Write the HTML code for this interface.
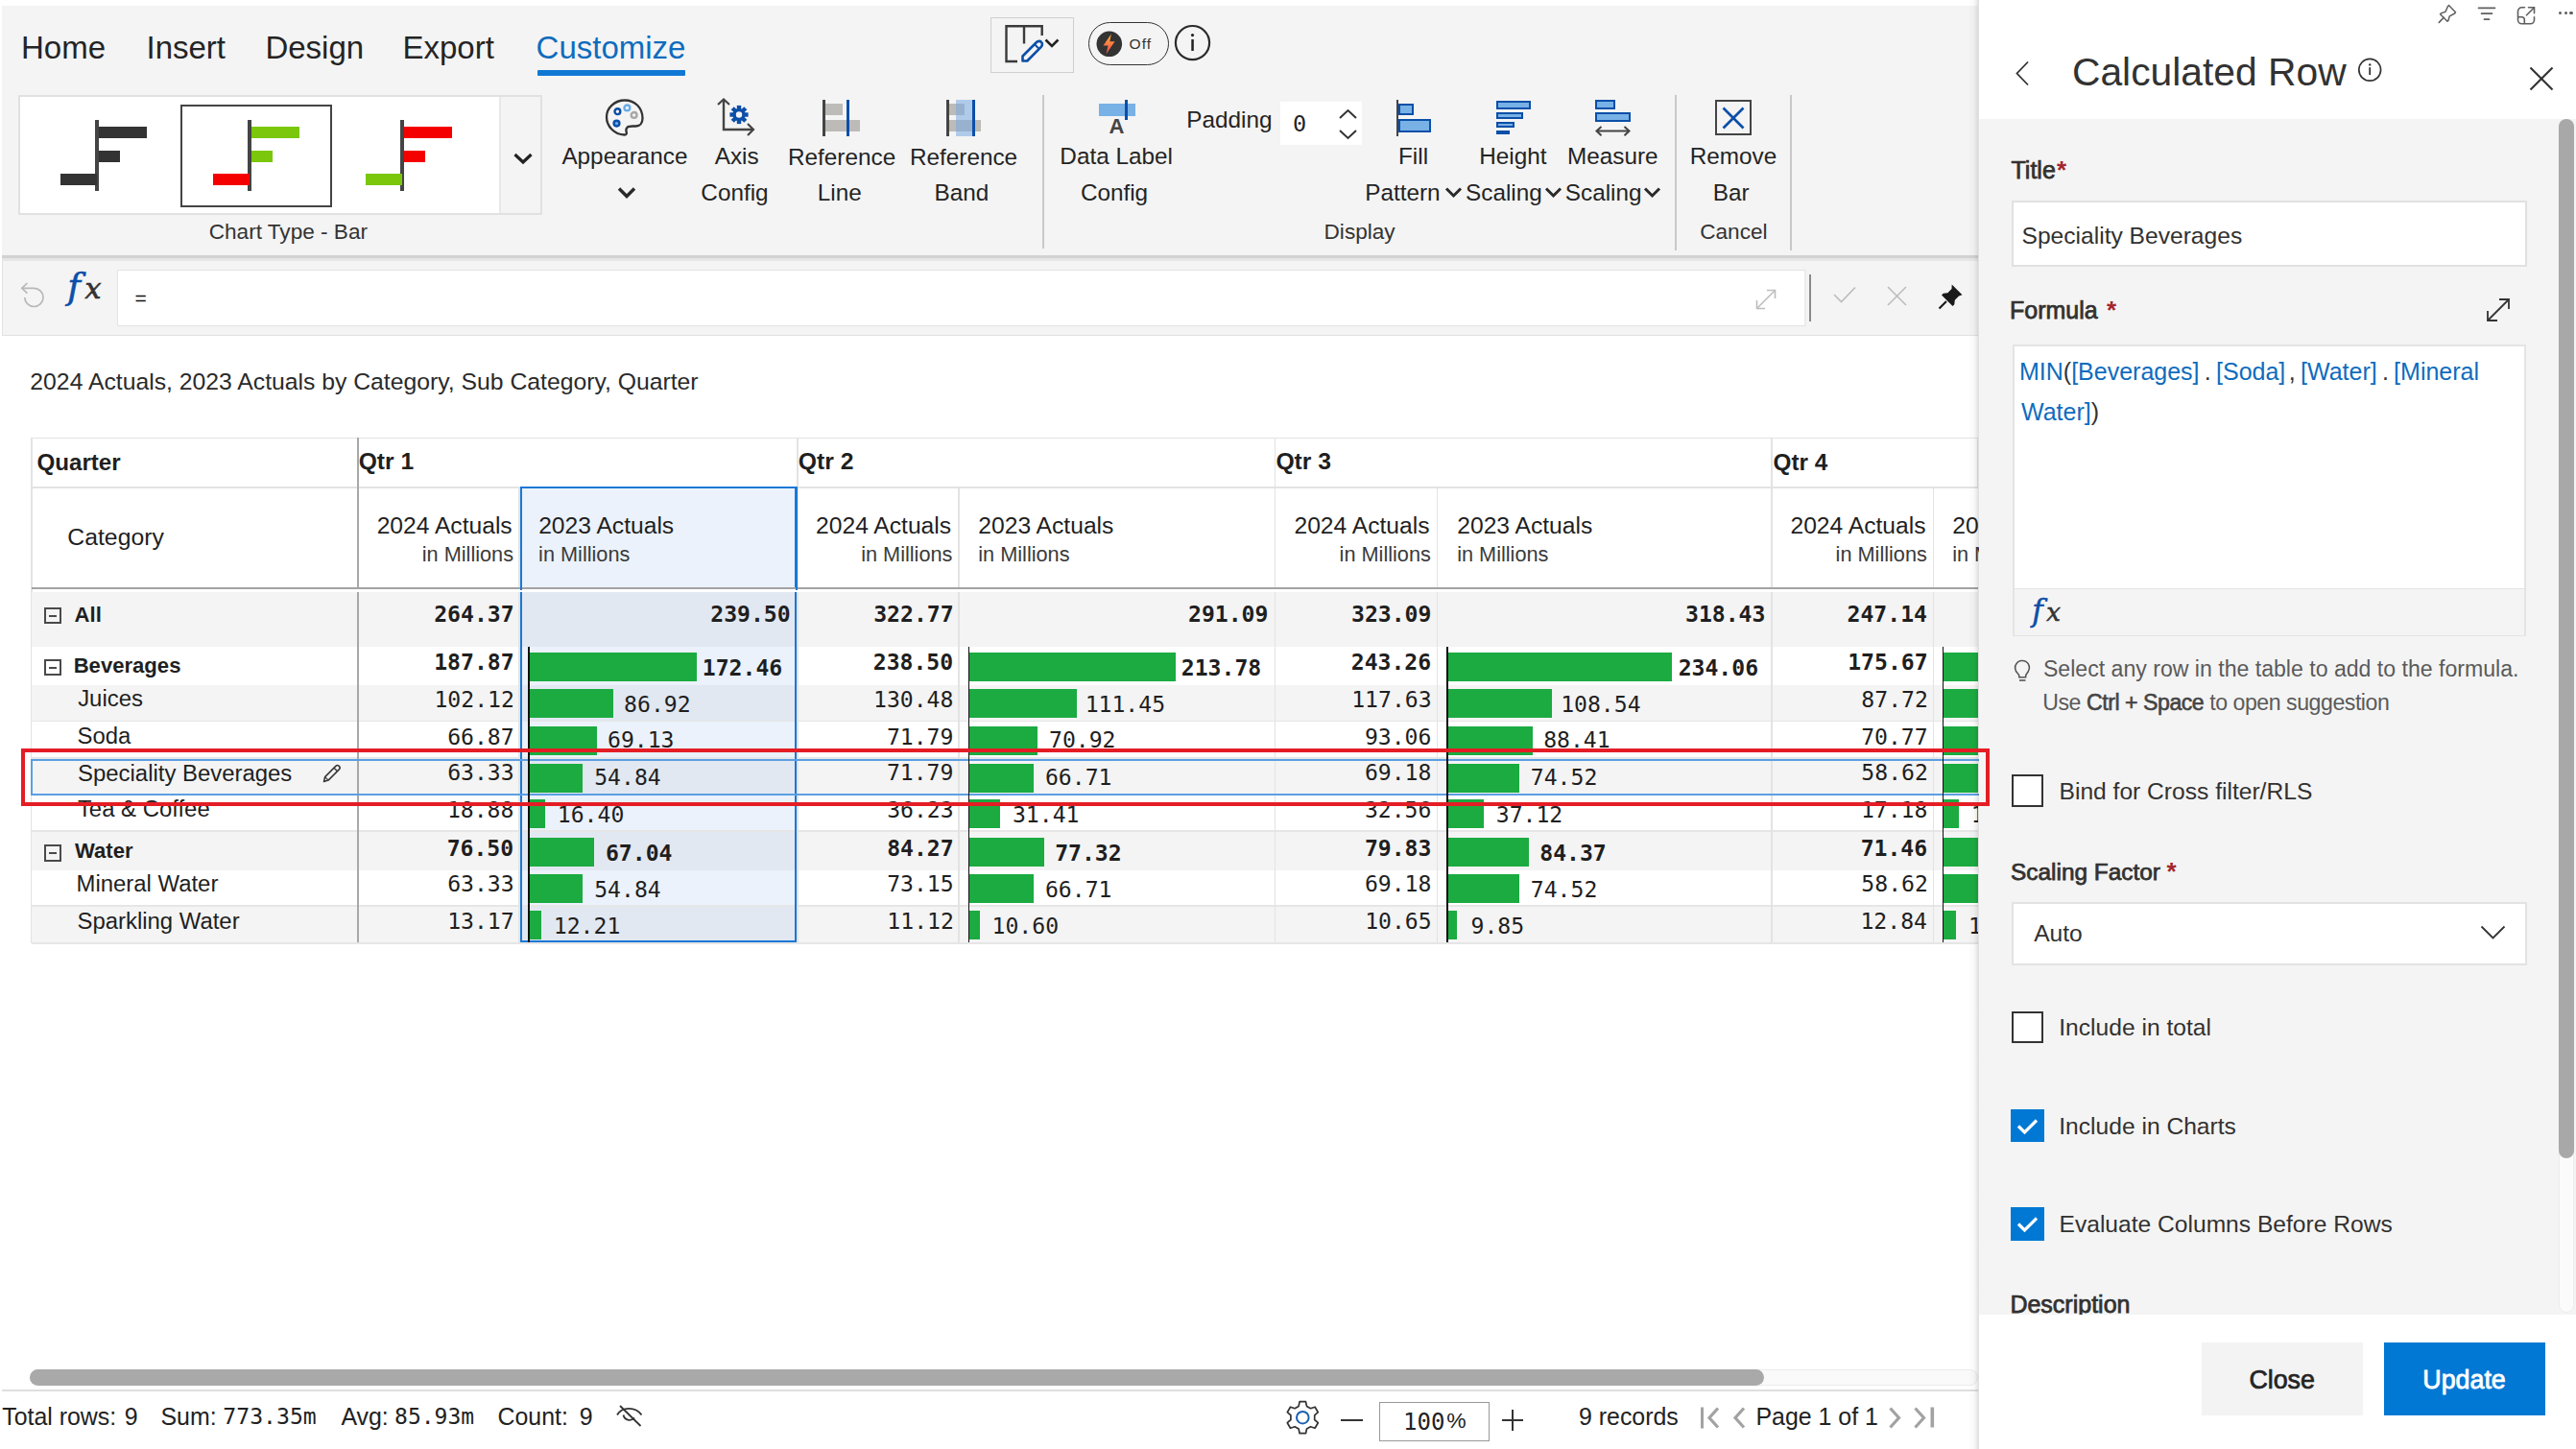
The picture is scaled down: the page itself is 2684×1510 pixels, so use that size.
<!DOCTYPE html>
<html><head><meta charset="utf-8"><title>Calculated Row</title>
<style>
html,body{margin:0;padding:0;background:#fff;}
body{width:2684px;height:1510px;overflow:hidden;position:relative;font-family:"Liberation Sans",sans-serif;line-height:1;}
body div{white-space:nowrap;line-height:1;}
svg{overflow:visible;}
</style></head><body>
<div style="position:absolute;left:2px;top:6px;width:2059px;height:260px;background:#f4f4f4"></div>
<div style="position:absolute;left:2px;top:266px;width:2059px;height:2.6px;background:#d2d2d2"></div>
<div style="position:absolute;left:2px;top:268.6px;width:2059px;height:3.2px;background:#e6e6e6"></div>
<div style="position:absolute;left:22.01px;top:33.05px;font-family:'Liberation Sans',sans-serif;font-size:33.00px;font-weight:400;color:#242424;">Home</div>
<div style="position:absolute;left:152.51px;top:33.05px;font-family:'Liberation Sans',sans-serif;font-size:33.00px;font-weight:400;color:#242424;">Insert</div>
<div style="position:absolute;left:276.40px;top:33.05px;font-family:'Liberation Sans',sans-serif;font-size:33.00px;font-weight:400;color:#242424;">Design</div>
<div style="position:absolute;left:419.46px;top:33.05px;font-family:'Liberation Sans',sans-serif;font-size:33.00px;font-weight:400;color:#242424;">Export</div>
<div style="position:absolute;left:558.58px;top:33.05px;font-family:'Liberation Sans',sans-serif;font-size:33.00px;font-weight:400;color:#0f6cbd;">Customize</div>
<div style="position:absolute;left:560px;top:73px;width:154px;height:6px;background:#0f78d4;border-radius:1px"></div>
<div style="position:absolute;left:19px;top:99px;width:546px;height:125px;box-sizing:border-box;border:2px solid #e1e1e1;background:#f4f4f4"></div>
<div style="position:absolute;left:21px;top:101px;width:501px;height:121px;box-sizing:border-box;background:#fff;border-right:2px solid #e8e8e8"></div>
<div style="position:absolute;left:188px;top:109px;width:158px;height:107px;box-sizing:border-box;border:2px solid #444"></div>
<div style="position:absolute;left:99.2px;top:125px;width:3.5px;height:74px;background:#444"></div>
<div style="position:absolute;left:102.7px;top:132px;width:50.5px;height:12px;background:#333"></div>
<div style="position:absolute;left:102.7px;top:157px;width:22px;height:12px;background:#333"></div>
<div style="position:absolute;left:62.7px;top:181px;width:38px;height:12px;background:#333"></div>
<div style="position:absolute;left:258.1px;top:125px;width:3.5px;height:74px;background:#444"></div>
<div style="position:absolute;left:261.6px;top:132px;width:50.5px;height:12px;background:#7ac70c"></div>
<div style="position:absolute;left:261.6px;top:157px;width:22px;height:12px;background:#7ac70c"></div>
<div style="position:absolute;left:221.60000000000002px;top:181px;width:38px;height:12px;background:#f50000"></div>
<div style="position:absolute;left:417.0px;top:125px;width:3.5px;height:74px;background:#444"></div>
<div style="position:absolute;left:420.5px;top:132px;width:50.5px;height:12px;background:#f50000"></div>
<div style="position:absolute;left:420.5px;top:157px;width:22px;height:12px;background:#f50000"></div>
<div style="position:absolute;left:380.5px;top:181px;width:38px;height:12px;background:#7ac70c"></div>
<svg style="position:absolute;left:533px;top:156px;" width="24" height="18" viewBox="0 0 24 18"><polyline points="3.5,5 12,13 20.5,5" fill="none" stroke="#222" stroke-width="3.2"/></svg>
<div style="position:absolute;left:217.69px;top:231.19px;font-family:'Liberation Sans',sans-serif;font-size:22.60px;font-weight:400;color:#333;">Chart Type - Bar</div>
<svg style="position:absolute;left:628px;top:100px;" width="46" height="46" viewBox="0 0 46 46"><path d="M23 4.5c-10.5 0-19 7.8-19 17.5 0 9.8 8.2 18 18.5 18.5 2.2.1 2.7-1.3 2.2-2.8-.6-1.7-.8-3.3.9-5 1.3-1.2 3-1.2 5.5-1.2h3.4c4.2 0 7-3.2 7-8.2C41.5 12.3 33.5 4.5 23 4.5z" fill="none" stroke="#333" stroke-width="2.3"/>
<circle cx="15.4" cy="16.2" r="2.9" fill="none" stroke="#0b4fa8" stroke-width="2.4"/>
<circle cx="25.4" cy="12.4" r="2.9" fill="none" stroke="#6aaee8" stroke-width="2.4"/>
<circle cx="32.6" cy="19.9" r="2.9" fill="none" stroke="#a8a8a8" stroke-width="2.4"/>
<circle cx="14.5" cy="28.6" r="2.9" fill="#6aaee8" stroke="#0b4fa8" stroke-width="2.4"/></svg>
<div style="position:absolute;left:585.41px;top:151.25px;font-family:'Liberation Sans',sans-serif;font-size:24.30px;font-weight:400;color:#242424;">Appearance</div>
<svg style="position:absolute;left:642px;top:193px;" width="22" height="16" viewBox="0 0 22 16"><polyline points="3,3.5 11,11.5 19,3.5" fill="none" stroke="#2a2a2a" stroke-width="3.4"/></svg>
<svg style="position:absolute;left:740px;top:100px;" width="52" height="42" viewBox="0 0 52 42"><polyline points="8,9 14,3.5 20,9" fill="none" stroke="#444" stroke-width="2.2"/>
<polyline points="14,4 14,35 44,35" fill="none" stroke="#444" stroke-width="2.4"/>
<polyline points="39,29 45,35 39,41" fill="none" stroke="#444" stroke-width="2.2"/>
<g transform="translate(30,19.5)" fill="#0b4fa8"><circle r="6.6"/>
<rect x="-2.2" y="-9.6" width="4.4" height="19.2"/><rect x="-2.2" y="-9.6" width="4.4" height="19.2" transform="rotate(45)"/>
<rect x="-2.2" y="-9.6" width="4.4" height="19.2" transform="rotate(90)"/><rect x="-2.2" y="-9.6" width="4.4" height="19.2" transform="rotate(135)"/>
<circle r="3.2" fill="#f4f4f4"/></g></svg>
<div style="position:absolute;left:744.71px;top:151.25px;font-family:'Liberation Sans',sans-serif;font-size:24.30px;font-weight:400;color:#242424;">Axis</div>
<div style="position:absolute;left:730.35px;top:188.94px;font-family:'Liberation Sans',sans-serif;font-size:24.30px;font-weight:400;color:#242424;">Config</div>
<div style="position:absolute;left:856.5px;top:104px;width:3px;height:38px;background:#444"></div>
<div style="position:absolute;left:859.5px;top:108px;width:18px;height:12px;background:#bdbbb8"></div>
<div style="position:absolute;left:859.5px;top:125px;width:36.5px;height:12px;background:#bdbbb8"></div>
<div style="position:absolute;left:882px;top:104px;width:3px;height:38px;background:#0b4fa8"></div>
<div style="position:absolute;left:821.06px;top:151.54px;font-family:'Liberation Sans',sans-serif;font-size:24.30px;font-weight:400;color:#242424;">Reference</div>
<div style="position:absolute;left:851.75px;top:189.34px;font-family:'Liberation Sans',sans-serif;font-size:24.30px;font-weight:400;color:#242424;">Line</div>
<div style="position:absolute;left:986px;top:104px;width:3px;height:38px;background:#444"></div>
<div style="position:absolute;left:989px;top:108px;width:16px;height:12px;background:#bdbbb8"></div>
<div style="position:absolute;left:989px;top:125px;width:32.5px;height:12px;background:#bdbbb8"></div>
<div style="position:absolute;left:996px;top:104px;width:17px;height:38px;background:rgba(120,170,225,0.55)"></div>
<div style="position:absolute;left:1013px;top:104px;width:2.5px;height:38px;background:#0b4fa8"></div>
<div style="position:absolute;left:948.01px;top:151.54px;font-family:'Liberation Sans',sans-serif;font-size:24.30px;font-weight:400;color:#242424;">Reference</div>
<div style="position:absolute;left:973.43px;top:189.34px;font-family:'Liberation Sans',sans-serif;font-size:24.30px;font-weight:400;color:#242424;">Band</div>
<div style="position:absolute;left:1085.5px;top:99px;width:2px;height:160px;background:#c8c8c8"></div>
<div style="position:absolute;left:1144.5px;top:108px;width:38px;height:12.5px;background:#78b1e6"></div>
<div style="position:absolute;left:1172.3px;top:103.7px;width:3px;height:21px;background:#0b4fa8"></div>
<div style="position:absolute;left:1155.56px;top:120.85px;font-family:'Liberation Sans',sans-serif;font-size:22.06px;font-weight:700;color:#444;">A</div>
<div style="position:absolute;left:1104.36px;top:151.25px;font-family:'Liberation Sans',sans-serif;font-size:24.30px;font-weight:400;color:#242424;">Data Label</div>
<div style="position:absolute;left:1125.90px;top:189.04px;font-family:'Liberation Sans',sans-serif;font-size:24.30px;font-weight:400;color:#242424;">Config</div>
<div style="position:absolute;left:1236.32px;top:112.75px;font-family:'Liberation Sans',sans-serif;font-size:24.30px;font-weight:400;color:#242424;">Padding</div>
<div style="position:absolute;left:1334px;top:106px;width:85px;height:45px;background:#fff"></div>
<div style="position:absolute;left:1346.95px;top:117.86px;font-family:'DejaVu Sans Mono','Liberation Mono',monospace;font-size:23.50px;font-weight:400;color:#242424;">0</div>
<svg style="position:absolute;left:1392px;top:112px;" width="25" height="36" viewBox="0 0 25 36"><polyline points="4,11 12.5,3 21,11" fill="none" stroke="#333" stroke-width="2"/><polyline points="4,24 12.5,32 21,24" fill="none" stroke="#333" stroke-width="2"/></svg>
<div style="position:absolute;left:1454.5px;top:103.5px;width:2.5px;height:38px;background:#444"></div>
<div style="position:absolute;left:1457px;top:107.5px;width:16px;height:12.5px;box-sizing:border-box;background:#78b1e6;border:2px solid #0b4fa8"></div>
<div style="position:absolute;left:1457px;top:124.3px;width:33.5px;height:13.7px;box-sizing:border-box;background:#78b1e6;border:2px solid #0b4fa8"></div>
<div style="position:absolute;left:1457.01px;top:150.94px;font-family:'Liberation Sans',sans-serif;font-size:24.30px;font-weight:400;color:#242424;">Fill</div>
<div style="position:absolute;left:1422.24px;top:189.15px;font-family:'Liberation Sans',sans-serif;font-size:24.30px;font-weight:400;color:#242424;">Pattern</div>
<svg style="position:absolute;left:1504px;top:193px;" width="21" height="15" viewBox="0 0 21 15"><polyline points="3,3.5 10.5,11 18,3.5" fill="none" stroke="#2a2a2a" stroke-width="3"/></svg>
<div style="position:absolute;left:1558.5px;top:104.9px;width:36.0px;height:9.199999999999989px;box-sizing:border-box;background:#78b1e6;border:2px solid #0b4fa8"></div>
<div style="position:absolute;left:1558.5px;top:117.2px;width:28.09999999999991px;height:7.099999999999994px;box-sizing:border-box;background:#78b1e6;border:2px solid #0b4fa8"></div>
<div style="position:absolute;left:1558.5px;top:127.3px;width:19.799999999999955px;height:5.700000000000003px;box-sizing:border-box;background:#78b1e6;border:2px solid #0b4fa8"></div>
<div style="position:absolute;left:1558.5px;top:136px;width:14.5px;height:4px;box-sizing:border-box;background:#78b1e6;border:2px solid #0b4fa8"></div>
<div style="position:absolute;left:1541.18px;top:150.94px;font-family:'Liberation Sans',sans-serif;font-size:24.30px;font-weight:400;color:#242424;">Height</div>
<div style="position:absolute;left:1527.10px;top:189.15px;font-family:'Liberation Sans',sans-serif;font-size:24.30px;font-weight:400;color:#242424;">Scaling</div>
<svg style="position:absolute;left:1608px;top:193px;" width="21" height="15" viewBox="0 0 21 15"><polyline points="3,3.5 10.5,11 18,3.5" fill="none" stroke="#2a2a2a" stroke-width="3"/></svg>
<div style="position:absolute;left:1662.4px;top:104.2px;width:20.2px;height:9.5px;box-sizing:border-box;background:#78b1e6;border:2px solid #0b4fa8"></div>
<div style="position:absolute;left:1662.4px;top:117.2px;width:36.4px;height:9.5px;box-sizing:border-box;background:#78b1e6;border:2px solid #0b4fa8"></div>
<svg style="position:absolute;left:1660px;top:130px;" width="42" height="14" viewBox="0 0 42 14"><line x1="4" y1="6.6" x2="37" y2="6.6" stroke="#444" stroke-width="2"/><polyline points="8.5,2 3.5,6.6 8.5,11.2" fill="none" stroke="#444" stroke-width="2"/><polyline points="32.5,2 37.5,6.6 32.5,11.2" fill="none" stroke="#444" stroke-width="2"/></svg>
<div style="position:absolute;left:1633.10px;top:150.94px;font-family:'Liberation Sans',sans-serif;font-size:24.30px;font-weight:400;color:#242424;">Measure</div>
<div style="position:absolute;left:1630.85px;top:189.15px;font-family:'Liberation Sans',sans-serif;font-size:24.30px;font-weight:400;color:#242424;">Scaling</div>
<svg style="position:absolute;left:1711px;top:193px;" width="21" height="15" viewBox="0 0 21 15"><polyline points="3,3.5 10.5,11 18,3.5" fill="none" stroke="#2a2a2a" stroke-width="3"/></svg>
<div style="position:absolute;left:1379.55px;top:231.19px;font-family:'Liberation Sans',sans-serif;font-size:22.60px;font-weight:400;color:#333;">Display</div>
<div style="position:absolute;left:1745px;top:99px;width:2px;height:162px;background:#c8c8c8"></div>
<div style="position:absolute;left:1787.4px;top:104px;width:37.2px;height:37.2px;box-sizing:border-box;border:2.2px solid #444"></div>
<svg style="position:absolute;left:1793px;top:110px;" width="26" height="26" viewBox="0 0 26 26"><line x1="2.5" y1="2.5" x2="23.5" y2="23.5" stroke="#0b4fa8" stroke-width="2.6"/><line x1="23.5" y1="2.5" x2="2.5" y2="23.5" stroke="#0b4fa8" stroke-width="2.6"/></svg>
<div style="position:absolute;left:1760.73px;top:151.34px;font-family:'Liberation Sans',sans-serif;font-size:24.30px;font-weight:400;color:#242424;">Remove</div>
<div style="position:absolute;left:1784.78px;top:189.15px;font-family:'Liberation Sans',sans-serif;font-size:24.30px;font-weight:400;color:#242424;">Bar</div>
<div style="position:absolute;left:1771.21px;top:230.99px;font-family:'Liberation Sans',sans-serif;font-size:22.60px;font-weight:400;color:#333;">Cancel</div>
<div style="position:absolute;left:1864.6px;top:99px;width:2px;height:162px;background:#c8c8c8"></div>
<div style="position:absolute;left:1031.5px;top:17.5px;width:87px;height:58.5px;box-sizing:border-box;border:1.5px solid #cfcfcf"></div>
<svg style="position:absolute;left:1044px;top:24px;" width="66" height="44" viewBox="0 0 66 44"><polyline points="16,40 4.5,40 4.5,3.3 41.7,3.3 41.7,13" fill="none" stroke="#3a3a3a" stroke-width="2.4"/>
<line x1="23" y1="3.3" x2="23" y2="21.5" stroke="#3a3a3a" stroke-width="2.4"/>
<path d="M21.5 39.5 L21.5 34.5 L36 20 C37.5 18.5 39.8 18.5 41 19.8 C42.3 21.1 42.3 23.3 40.8 24.8 L26.3 39.5 Z" fill="none" stroke="#0b4fa8" stroke-width="2.6" stroke-linejoin="round"/>
<line x1="34" y1="22.3" x2="38.5" y2="26.8" stroke="#0b4fa8" stroke-width="2"/>
<polyline points="45.5,17.5 52,24 58.5,17.5" fill="none" stroke="#222" stroke-width="2.6"/></svg>
<div style="position:absolute;left:1134px;top:23px;width:84px;height:44.5px;box-sizing:border-box;border:1.8px solid #333;border-radius:23px"></div>
<svg style="position:absolute;left:1142px;top:31.5px" width="28" height="28" viewBox="0 0 28 28"><defs><linearGradient id="lg" x1="0" y1="0" x2="0" y2="1"><stop offset="0" stop-color="#ffb43a"/><stop offset="1" stop-color="#f2434a"/></linearGradient></defs>
<circle cx="13.8" cy="13.8" r="13.3" fill="#333"/><path d="M15.8 3.6 L7.5 15.5 L12.5 15.5 L10.5 24.5 L19.5 11.3 L14.3 11.3 Z" fill="url(#lg)"/></svg>
<div style="position:absolute;left:1176.38px;top:37.73px;font-family:'Liberation Sans',sans-serif;font-size:15.50px;font-weight:400;color:#333;letter-spacing:1.2px">Off</div>
<svg style="position:absolute;left:1223px;top:25px;" width="40" height="40" viewBox="0 0 40 40"><circle cx="19.5" cy="19.6" r="17.6" fill="none" stroke="#2b2b2b" stroke-width="2.2"/><circle cx="19.5" cy="11.6" r="1.6" fill="#222"/><rect x="18.3" y="16" width="2.5" height="12" fill="#222"/></svg>
<div style="position:absolute;left:2px;top:271.8px;width:2059px;height:78.5px;box-sizing:border-box;background:#f4f4f4;border:1.8px solid #e2e2e2;border-top:none;border-right:none"></div>
<svg style="position:absolute;left:14px;top:286px;" width="40" height="40" viewBox="0 0 40 40"><path d="M8.8 14.3 H21.4 A9.6 9.6 0 1 1 11.8 23.9" fill="none" stroke="#b8b8b8" stroke-width="1.7"/><polyline points="14.4,9 8.8,14.3 14.4,19.6" fill="none" stroke="#b8b8b8" stroke-width="1.7"/></svg>
<div style="position:absolute;left:70.2px;top:279.6px;font-family:'DejaVu Serif','Liberation Serif',serif;font-style:italic;font-size:37px;line-height:1;white-space:nowrap"><span style="color:#0b4fa8;-webkit-text-stroke:0.6px #0b4fa8">f</span><span style="color:#333;font-size:30px;margin-left:4.5px;-webkit-text-stroke:0.7px #333">x</span></div>
<div style="position:absolute;left:121.5px;top:280.5px;width:1760px;height:59.5px;box-sizing:border-box;background:#fff;border:1.5px solid #e3e3e3;border-right:2px solid #ececec"></div>
<div style="position:absolute;left:140.56px;top:300.15px;font-family:'Liberation Sans',sans-serif;font-size:21.00px;font-weight:400;color:#111;">=</div>
<svg style="position:absolute;left:1824px;top:296px;" width="32" height="32" viewBox="0 0 32 32"><line x1="6.5" y1="25.5" x2="25.5" y2="6.5" stroke="#bdbdbd" stroke-width="1.6"/><polyline points="6.5,17 6.5,25.5 15,25.5" fill="none" stroke="#bdbdbd" stroke-width="1.6"/><polyline points="17,6.5 25.5,6.5 25.5,15" fill="none" stroke="#bdbdbd" stroke-width="1.6"/></svg>
<div style="position:absolute;left:1884.5px;top:286px;width:2px;height:49px;background:#8a8a8a"></div>
<svg style="position:absolute;left:1908px;top:296px;" width="30" height="24" viewBox="0 0 30 24"><polyline points="3,11 10.5,18.5 25,3.5" fill="none" stroke="#bcbcbc" stroke-width="1.6"/></svg>
<svg style="position:absolute;left:1964px;top:296px;" width="26" height="24" viewBox="0 0 26 24"><line x1="3" y1="3" x2="22" y2="22" stroke="#bcbcbc" stroke-width="1.6"/><line x1="22" y1="3" x2="3" y2="22" stroke="#bcbcbc" stroke-width="1.6"/></svg>
<svg style="position:absolute;left:2018px;top:294px;" width="30" height="30" viewBox="0 0 30 30"><path d="M15.7 2.5 L26.5 13.3 L23 14.6 L18.8 18.8 L18.3 23.3 L16.5 25 L5 13.5 L6.8 11.7 L11.3 11.2 L15.5 7 Z" fill="#1a1a1a"/><line x1="10" y1="20" x2="2.5" y2="27.5" stroke="#1a1a1a" stroke-width="2.2"/></svg>
<div style="position:absolute;left:31.36px;top:385.87px;font-family:'Liberation Sans',sans-serif;font-size:24.74px;font-weight:400;color:#2a2a2a;">2024 Actuals, 2023 Actuals by Category, Sub Category, Quarter</div>
<div style="position:absolute;left:33px;top:455.5px;width:2028px;height:1.5px;background:#e3e3e3"></div>
<div style="position:absolute;left:32px;top:455.5px;width:1.5px;height:527px;background:#e3e3e3"></div>
<div style="position:absolute;left:33px;top:507px;width:2028px;height:1.5px;background:#e3e3e3"></div>
<div style="position:absolute;left:542px;top:507px;width:288px;height:106px;box-sizing:border-box;background:#ebf2fb;border:2px solid #1a78d6;border-bottom:none"></div>
<div style="position:absolute;left:33px;top:612px;width:2028px;height:2.3px;background:#a3a3a3"></div>
<div style="position:absolute;left:33px;top:617px;width:2028px;height:57px;background:#f4f4f4"></div>
<div style="position:absolute;left:33px;top:674px;width:2028px;height:40px;background:#fff"></div>
<div style="position:absolute;left:33px;top:714px;width:2028px;height:36.5px;background:#f4f4f4"></div>
<div style="position:absolute;left:33px;top:752px;width:2028px;height:37px;background:#fff"></div>
<div style="position:absolute;left:33px;top:790.5px;width:2028px;height:38.5px;background:#f4f4f4"></div>
<div style="position:absolute;left:33px;top:829px;width:2028px;height:36px;background:#fff"></div>
<div style="position:absolute;left:33px;top:866.5px;width:2028px;height:40.5px;background:#f4f4f4"></div>
<div style="position:absolute;left:33px;top:907px;width:2028px;height:36px;background:#fff"></div>
<div style="position:absolute;left:33px;top:944.5px;width:2028px;height:37.5px;background:#f4f4f4"></div>
<div style="position:absolute;left:33px;top:750.5px;width:2028px;height:1.5px;background:#e6e6e6"></div>
<div style="position:absolute;left:33px;top:789px;width:2028px;height:1.5px;background:#e6e6e6"></div>
<div style="position:absolute;left:33px;top:865px;width:2028px;height:1.5px;background:#e6e6e6"></div>
<div style="position:absolute;left:33px;top:943px;width:2028px;height:1.5px;background:#e6e6e6"></div>
<div style="position:absolute;left:33px;top:982px;width:2028px;height:1.5px;background:#e6e6e6"></div>
<div style="position:absolute;left:542px;top:617px;width:288px;height:57px;background:#e2e8f1"></div>
<div style="position:absolute;left:542px;top:674px;width:288px;height:40px;background:#ebf2fb"></div>
<div style="position:absolute;left:542px;top:714px;width:288px;height:36.5px;background:#e2e8f1"></div>
<div style="position:absolute;left:542px;top:752px;width:288px;height:37px;background:#ebf2fb"></div>
<div style="position:absolute;left:542px;top:790.5px;width:288px;height:38.5px;background:#e2e8f1"></div>
<div style="position:absolute;left:542px;top:829px;width:288px;height:36px;background:#ebf2fb"></div>
<div style="position:absolute;left:542px;top:866.5px;width:288px;height:40.5px;background:#e2e8f1"></div>
<div style="position:absolute;left:542px;top:907px;width:288px;height:36px;background:#ebf2fb"></div>
<div style="position:absolute;left:542px;top:944.5px;width:288px;height:37.5px;background:#e2e8f1"></div>
<div style="position:absolute;left:542px;top:617.3px;width:288px;height:365.2px;box-sizing:border-box;border:2px solid #1a78d6;border-top:none"></div>
<div style="position:absolute;left:371.5px;top:456px;width:2px;height:156px;background:#a8a8a8"></div>
<div style="position:absolute;left:371.5px;top:617px;width:2px;height:365px;background:#a8a8a8"></div>
<div style="position:absolute;left:830px;top:456px;width:1.5px;height:156px;background:#e3e3e3"></div>
<div style="position:absolute;left:830px;top:617px;width:1.5px;height:365px;background:#e3e3e3"></div>
<div style="position:absolute;left:1327.5px;top:456px;width:1.5px;height:156px;background:#e3e3e3"></div>
<div style="position:absolute;left:1327.5px;top:617px;width:1.5px;height:365px;background:#e3e3e3"></div>
<div style="position:absolute;left:1845px;top:456px;width:1.5px;height:156px;background:#e3e3e3"></div>
<div style="position:absolute;left:1845px;top:617px;width:1.5px;height:365px;background:#e3e3e3"></div>
<div style="position:absolute;left:998px;top:508px;width:1.5px;height:104px;background:#e3e3e3"></div>
<div style="position:absolute;left:998px;top:617px;width:1.5px;height:365px;background:#e3e3e3"></div>
<div style="position:absolute;left:1496.5px;top:508px;width:1.5px;height:104px;background:#e3e3e3"></div>
<div style="position:absolute;left:1496.5px;top:617px;width:1.5px;height:365px;background:#e3e3e3"></div>
<div style="position:absolute;left:2013.5px;top:508px;width:1.5px;height:104px;background:#e3e3e3"></div>
<div style="position:absolute;left:2013.5px;top:617px;width:1.5px;height:365px;background:#e3e3e3"></div>
<div style="position:absolute;left:828.5px;top:507px;width:2px;height:107.5px;background:#1a78d6"></div>
<div style="position:absolute;left:542px;top:507px;width:2px;height:107.5px;background:#1a78d6"></div>
<div style="position:absolute;left:540.3px;top:508px;width:1.5px;height:104px;background:#e3e3e3"></div>
<div style="position:absolute;left:540.3px;top:617px;width:1.5px;height:365px;background:#e3e3e3"></div>
<div style="position:absolute;left:32px;top:790.5px;width:2040px;height:38.5px;box-sizing:border-box;border:2px solid #5b9fe3;border-right:none"></div>
<div style="position:absolute;left:38.43px;top:469.66px;font-family:'Liberation Sans',sans-serif;font-size:24.16px;font-weight:700;color:#1f1f1f;">Quarter</div>
<div style="position:absolute;left:70.36px;top:547.76px;font-family:'Liberation Sans',sans-serif;font-size:24.75px;font-weight:400;color:#1f1f1f;">Category</div>
<div style="position:absolute;left:373.72px;top:469.29px;font-family:'Liberation Sans',sans-serif;font-size:24.60px;font-weight:700;color:#1f1f1f;">Qtr 1</div>
<div style="position:absolute;left:831.81px;top:469.19px;font-family:'Liberation Sans',sans-serif;font-size:24.71px;font-weight:700;color:#1f1f1f;">Qtr 2</div>
<div style="position:absolute;left:1329.41px;top:469.19px;font-family:'Liberation Sans',sans-serif;font-size:24.71px;font-weight:700;color:#1f1f1f;">Qtr 3</div>
<div style="position:absolute;left:1847.53px;top:469.56px;font-family:'Liberation Sans',sans-serif;font-size:24.28px;font-weight:700;color:#1f1f1f;">Qtr 4</div>
<div style="position:absolute;left:392.67px;top:535.55px;font-family:'Liberation Sans',sans-serif;font-size:24.64px;font-weight:400;color:#1f1f1f;">2024 Actuals</div>
<div style="position:absolute;left:439.80px;top:567.46px;font-family:'Liberation Sans',sans-serif;font-size:21.70px;font-weight:400;color:#3a3a3a;">in Millions</div>
<div style="position:absolute;left:850.07px;top:535.55px;font-family:'Liberation Sans',sans-serif;font-size:24.64px;font-weight:400;color:#1f1f1f;">2024 Actuals</div>
<div style="position:absolute;left:897.20px;top:567.46px;font-family:'Liberation Sans',sans-serif;font-size:21.70px;font-weight:400;color:#3a3a3a;">in Millions</div>
<div style="position:absolute;left:1348.47px;top:535.55px;font-family:'Liberation Sans',sans-serif;font-size:24.64px;font-weight:400;color:#1f1f1f;">2024 Actuals</div>
<div style="position:absolute;left:1395.60px;top:567.46px;font-family:'Liberation Sans',sans-serif;font-size:21.70px;font-weight:400;color:#3a3a3a;">in Millions</div>
<div style="position:absolute;left:1865.47px;top:535.55px;font-family:'Liberation Sans',sans-serif;font-size:24.64px;font-weight:400;color:#1f1f1f;">2024 Actuals</div>
<div style="position:absolute;left:1912.60px;top:567.46px;font-family:'Liberation Sans',sans-serif;font-size:21.70px;font-weight:400;color:#3a3a3a;">in Millions</div>
<div style="position:absolute;left:561.17px;top:535.55px;font-family:'Liberation Sans',sans-serif;font-size:24.64px;font-weight:400;color:#1f1f1f;">2023 Actuals</div>
<div style="position:absolute;left:561.10px;top:567.46px;font-family:'Liberation Sans',sans-serif;font-size:21.70px;font-weight:400;color:#3a3a3a;">in Millions</div>
<div style="position:absolute;left:1019.37px;top:535.55px;font-family:'Liberation Sans',sans-serif;font-size:24.64px;font-weight:400;color:#1f1f1f;">2023 Actuals</div>
<div style="position:absolute;left:1019.30px;top:567.46px;font-family:'Liberation Sans',sans-serif;font-size:21.70px;font-weight:400;color:#3a3a3a;">in Millions</div>
<div style="position:absolute;left:1518.27px;top:535.55px;font-family:'Liberation Sans',sans-serif;font-size:24.64px;font-weight:400;color:#1f1f1f;">2023 Actuals</div>
<div style="position:absolute;left:1518.20px;top:567.46px;font-family:'Liberation Sans',sans-serif;font-size:21.70px;font-weight:400;color:#3a3a3a;">in Millions</div>
<div style="position:absolute;left:2034.27px;top:535.55px;font-family:'Liberation Sans',sans-serif;font-size:24.64px;font-weight:400;color:#1f1f1f;">2023 Actuals</div>
<div style="position:absolute;left:2034.20px;top:567.46px;font-family:'Liberation Sans',sans-serif;font-size:21.70px;font-weight:400;color:#3a3a3a;">in Millions</div>
<div style="position:absolute;left:77.56px;top:630.31px;font-family:'Liberation Sans',sans-serif;font-size:22.10px;font-weight:700;color:#1f1f1f;">All</div>
<div style="position:absolute;left:46px;top:632.75px;width:17.5px;height:17.5px;box-sizing:border-box;border:2px solid #4a4a4a"></div>
<div style="position:absolute;left:50.5px;top:640.5px;width:8.5px;height:2px;background:#4a4a4a"></div>
<div style="position:absolute;left:76.67px;top:683.31px;font-family:'Liberation Sans',sans-serif;font-size:22.10px;font-weight:700;color:#1f1f1f;">Beverages</div>
<div style="position:absolute;left:46px;top:686.95px;width:17.5px;height:17.5px;box-sizing:border-box;border:2px solid #4a4a4a"></div>
<div style="position:absolute;left:50.5px;top:694.7px;width:8.5px;height:2px;background:#4a4a4a"></div>
<div style="position:absolute;left:81.16px;top:716.28px;font-family:'Liberation Sans',sans-serif;font-size:23.91px;font-weight:400;color:#1f1f1f;">Juices</div>
<div style="position:absolute;left:80.44px;top:754.98px;font-family:'Liberation Sans',sans-serif;font-size:23.91px;font-weight:400;color:#1f1f1f;">Soda</div>
<div style="position:absolute;left:81.04px;top:793.58px;font-family:'Liberation Sans',sans-serif;font-size:23.91px;font-weight:400;color:#1f1f1f;">Speciality Beverages</div>
<div style="position:absolute;left:80.92px;top:831.38px;font-family:'Liberation Sans',sans-serif;font-size:23.91px;font-weight:400;color:#1f1f1f;">Tea &amp; Coffee</div>
<div style="position:absolute;left:78.00px;top:876.01px;font-family:'Liberation Sans',sans-serif;font-size:22.10px;font-weight:700;color:#1f1f1f;">Water</div>
<div style="position:absolute;left:46px;top:880.05px;width:17.5px;height:17.5px;box-sizing:border-box;border:2px solid #4a4a4a"></div>
<div style="position:absolute;left:50.5px;top:887.8px;width:8.5px;height:2px;background:#4a4a4a"></div>
<div style="position:absolute;left:79.49px;top:909.48px;font-family:'Liberation Sans',sans-serif;font-size:23.91px;font-weight:400;color:#1f1f1f;">Mineral Water</div>
<div style="position:absolute;left:80.44px;top:947.58px;font-family:'Liberation Sans',sans-serif;font-size:23.91px;font-weight:400;color:#1f1f1f;">Sparkling Water</div>
<svg style="position:absolute;left:333px;top:795px;" width="24" height="24" viewBox="0 0 24 24"><path d="M4.5 19.5 L5.6 14.6 L16.8 3.4 C17.8 2.4 19.3 2.4 20.3 3.4 C21.3 4.4 21.3 5.9 20.3 6.9 L9.1 18.1 Z" fill="none" stroke="#3a3a3a" stroke-width="1.6" stroke-linejoin="round"/><line x1="15" y1="5.2" x2="18.6" y2="8.8" stroke="#3a3a3a" stroke-width="1.4"/><line x1="5.6" y1="14.6" x2="9.1" y2="18.1" stroke="#3a3a3a" stroke-width="1.3"/></svg>
<div style="position:absolute;left:0;top:0;width:2061px;height:1510px;overflow:hidden">
<div style="position:absolute;left:452.22px;top:629.20px;font-family:'DejaVu Sans Mono','Liberation Mono',monospace;font-size:23.10px;font-weight:700;color:#1f1f1f;">264.37</div>
<div style="position:absolute;left:740.26px;top:629.20px;font-family:'DejaVu Sans Mono','Liberation Mono',monospace;font-size:23.10px;font-weight:700;color:#1f1f1f;">239.50</div>
<div style="position:absolute;left:910.22px;top:629.20px;font-family:'DejaVu Sans Mono','Liberation Mono',monospace;font-size:23.10px;font-weight:700;color:#1f1f1f;">322.77</div>
<div style="position:absolute;left:1237.99px;top:629.20px;font-family:'DejaVu Sans Mono','Liberation Mono',monospace;font-size:23.10px;font-weight:700;color:#1f1f1f;">291.09</div>
<div style="position:absolute;left:1407.99px;top:629.20px;font-family:'DejaVu Sans Mono','Liberation Mono',monospace;font-size:23.10px;font-weight:700;color:#1f1f1f;">323.09</div>
<div style="position:absolute;left:1755.99px;top:629.20px;font-family:'DejaVu Sans Mono','Liberation Mono',monospace;font-size:23.10px;font-weight:700;color:#1f1f1f;">318.43</div>
<div style="position:absolute;left:1924.53px;top:629.20px;font-family:'DejaVu Sans Mono','Liberation Mono',monospace;font-size:23.10px;font-weight:700;color:#1f1f1f;">247.14</div>
<div style="position:absolute;left:2257.76px;top:629.20px;font-family:'DejaVu Sans Mono','Liberation Mono',monospace;font-size:23.10px;font-weight:700;color:#1f1f1f;">230.00</div>
<div style="position:absolute;left:452.22px;top:679.30px;font-family:'DejaVu Sans Mono','Liberation Mono',monospace;font-size:23.10px;font-weight:700;color:#1f1f1f;">187.87</div>
<div style="position:absolute;left:551.8px;top:680px;width:174.01214px;height:30.2px;background:#1bab41"></div>
<div style="position:absolute;left:731.80px;top:685.00px;font-family:'DejaVu Sans Mono','Liberation Mono',monospace;font-size:23.10px;font-weight:700;color:#1f1f1f;">172.46</div>
<div style="position:absolute;left:909.76px;top:679.30px;font-family:'DejaVu Sans Mono','Liberation Mono',monospace;font-size:23.10px;font-weight:700;color:#1f1f1f;">238.50</div>
<div style="position:absolute;left:1010.0999999999999px;top:680px;width:214.52823px;height:30.2px;background:#1bab41"></div>
<div style="position:absolute;left:1230.82px;top:685.00px;font-family:'DejaVu Sans Mono','Liberation Mono',monospace;font-size:23.10px;font-weight:700;color:#1f1f1f;">213.78</div>
<div style="position:absolute;left:1407.76px;top:679.30px;font-family:'DejaVu Sans Mono','Liberation Mono',monospace;font-size:23.10px;font-weight:700;color:#1f1f1f;">243.26</div>
<div style="position:absolute;left:1508.3999999999999px;top:680px;width:234.06px;height:30.2px;background:#1bab41"></div>
<div style="position:absolute;left:1748.64px;top:685.00px;font-family:'DejaVu Sans Mono','Liberation Mono',monospace;font-size:23.10px;font-weight:700;color:#1f1f1f;">234.06</div>
<div style="position:absolute;left:1925.22px;top:679.30px;font-family:'DejaVu Sans Mono','Liberation Mono',monospace;font-size:23.10px;font-weight:700;color:#1f1f1f;">175.67</div>
<div style="position:absolute;left:2025.3px;top:680px;width:160.0px;height:30.2px;background:#1bab41"></div>
<div style="position:absolute;left:2193.30px;top:685.00px;font-family:'DejaVu Sans Mono','Liberation Mono',monospace;font-size:23.10px;font-weight:700;color:#1f1f1f;">160.00</div>
<div style="position:absolute;left:452.45px;top:718.00px;font-family:'DejaVu Sans Mono','Liberation Mono',monospace;font-size:23.10px;font-weight:400;color:#1f1f1f;">102.12</div>
<div style="position:absolute;left:551.8px;top:718px;width:87.70227999999999px;height:30.2px;background:#1bab41"></div>
<div style="position:absolute;left:650.12px;top:722.60px;font-family:'DejaVu Sans Mono','Liberation Mono',monospace;font-size:23.10px;font-weight:400;color:#1f1f1f;">86.92</div>
<div style="position:absolute;left:909.99px;top:718.00px;font-family:'DejaVu Sans Mono','Liberation Mono',monospace;font-size:23.10px;font-weight:400;color:#1f1f1f;">130.48</div>
<div style="position:absolute;left:1010.0999999999999px;top:718px;width:111.84007500000001px;height:30.2px;background:#1bab41"></div>
<div style="position:absolute;left:1130.65px;top:722.60px;font-family:'DejaVu Sans Mono','Liberation Mono',monospace;font-size:23.10px;font-weight:400;color:#1f1f1f;">111.45</div>
<div style="position:absolute;left:1408.22px;top:718.00px;font-family:'DejaVu Sans Mono','Liberation Mono',monospace;font-size:23.10px;font-weight:400;color:#1f1f1f;">117.63</div>
<div style="position:absolute;left:1508.3999999999999px;top:718px;width:108.54px;height:30.2px;background:#1bab41"></div>
<div style="position:absolute;left:1626.15px;top:722.60px;font-family:'DejaVu Sans Mono','Liberation Mono',monospace;font-size:23.10px;font-weight:400;color:#1f1f1f;">108.54</div>
<div style="position:absolute;left:1939.36px;top:718.00px;font-family:'DejaVu Sans Mono','Liberation Mono',monospace;font-size:23.10px;font-weight:400;color:#1f1f1f;">87.72</div>
<div style="position:absolute;left:2025.3px;top:718px;width:80.0px;height:30.2px;background:#1bab41"></div>
<div style="position:absolute;left:2116.95px;top:722.60px;font-family:'DejaVu Sans Mono','Liberation Mono',monospace;font-size:23.10px;font-weight:400;color:#1f1f1f;">80.00</div>
<div style="position:absolute;left:466.13px;top:756.70px;font-family:'DejaVu Sans Mono','Liberation Mono',monospace;font-size:23.10px;font-weight:400;color:#1f1f1f;">66.87</div>
<div style="position:absolute;left:551.8px;top:756.5px;width:69.75216999999999px;height:30.2px;background:#1bab41"></div>
<div style="position:absolute;left:632.99px;top:760.10px;font-family:'DejaVu Sans Mono','Liberation Mono',monospace;font-size:23.10px;font-weight:400;color:#1f1f1f;">69.13</div>
<div style="position:absolute;left:923.90px;top:756.70px;font-family:'DejaVu Sans Mono','Liberation Mono',monospace;font-size:23.10px;font-weight:400;color:#1f1f1f;">71.79</div>
<div style="position:absolute;left:1010.0999999999999px;top:756.5px;width:71.16822px;height:30.2px;background:#1bab41"></div>
<div style="position:absolute;left:1093.01px;top:760.10px;font-family:'DejaVu Sans Mono','Liberation Mono',monospace;font-size:23.10px;font-weight:400;color:#1f1f1f;">70.92</div>
<div style="position:absolute;left:1421.90px;top:756.70px;font-family:'DejaVu Sans Mono','Liberation Mono',monospace;font-size:23.10px;font-weight:400;color:#1f1f1f;">93.06</div>
<div style="position:absolute;left:1508.3999999999999px;top:756.5px;width:88.41px;height:30.2px;background:#1bab41"></div>
<div style="position:absolute;left:1608.15px;top:760.10px;font-family:'DejaVu Sans Mono','Liberation Mono',monospace;font-size:23.10px;font-weight:400;color:#1f1f1f;">88.41</div>
<div style="position:absolute;left:1939.13px;top:756.70px;font-family:'DejaVu Sans Mono','Liberation Mono',monospace;font-size:23.10px;font-weight:400;color:#1f1f1f;">70.77</div>
<div style="position:absolute;left:2025.3px;top:756.5px;width:62.0px;height:30.2px;background:#1bab41"></div>
<div style="position:absolute;left:2099.62px;top:760.10px;font-family:'DejaVu Sans Mono','Liberation Mono',monospace;font-size:23.10px;font-weight:400;color:#1f1f1f;">62.00</div>
<div style="position:absolute;left:466.13px;top:794.30px;font-family:'DejaVu Sans Mono','Liberation Mono',monospace;font-size:23.10px;font-weight:400;color:#1f1f1f;">63.33</div>
<div style="position:absolute;left:551.8px;top:795.5px;width:55.33356px;height:30.2px;background:#1bab41"></div>
<div style="position:absolute;left:619.22px;top:799.30px;font-family:'DejaVu Sans Mono','Liberation Mono',monospace;font-size:23.10px;font-weight:400;color:#1f1f1f;">54.84</div>
<div style="position:absolute;left:923.90px;top:794.30px;font-family:'DejaVu Sans Mono','Liberation Mono',monospace;font-size:23.10px;font-weight:400;color:#1f1f1f;">71.79</div>
<div style="position:absolute;left:1010.0999999999999px;top:795.5px;width:66.943485px;height:30.2px;background:#1bab41"></div>
<div style="position:absolute;left:1088.96px;top:799.30px;font-family:'DejaVu Sans Mono','Liberation Mono',monospace;font-size:23.10px;font-weight:400;color:#1f1f1f;">66.71</div>
<div style="position:absolute;left:1421.90px;top:794.30px;font-family:'DejaVu Sans Mono','Liberation Mono',monospace;font-size:23.10px;font-weight:400;color:#1f1f1f;">69.18</div>
<div style="position:absolute;left:1508.3999999999999px;top:795.5px;width:74.52px;height:30.2px;background:#1bab41"></div>
<div style="position:absolute;left:1594.78px;top:799.30px;font-family:'DejaVu Sans Mono','Liberation Mono',monospace;font-size:23.10px;font-weight:400;color:#1f1f1f;">74.52</div>
<div style="position:absolute;left:1939.36px;top:794.30px;font-family:'DejaVu Sans Mono','Liberation Mono',monospace;font-size:23.10px;font-weight:400;color:#1f1f1f;">58.62</div>
<div style="position:absolute;left:2025.3px;top:795.5px;width:52.0px;height:30.2px;background:#1bab41"></div>
<div style="position:absolute;left:2089.99px;top:799.30px;font-family:'DejaVu Sans Mono','Liberation Mono',monospace;font-size:23.10px;font-weight:400;color:#1f1f1f;">52.00</div>
<div style="position:absolute;left:465.90px;top:832.60px;font-family:'DejaVu Sans Mono','Liberation Mono',monospace;font-size:23.10px;font-weight:400;color:#1f1f1f;">18.88</div>
<div style="position:absolute;left:551.8px;top:833px;width:16.547599999999996px;height:30.2px;background:#1bab41"></div>
<div style="position:absolute;left:580.82px;top:837.60px;font-family:'DejaVu Sans Mono','Liberation Mono',monospace;font-size:23.10px;font-weight:400;color:#1f1f1f;">16.40</div>
<div style="position:absolute;left:924.13px;top:832.60px;font-family:'DejaVu Sans Mono','Liberation Mono',monospace;font-size:23.10px;font-weight:400;color:#1f1f1f;">36.23</div>
<div style="position:absolute;left:1010.0999999999999px;top:833px;width:31.519935px;height:30.2px;background:#1bab41"></div>
<div style="position:absolute;left:1054.96px;top:837.60px;font-family:'DejaVu Sans Mono','Liberation Mono',monospace;font-size:23.10px;font-weight:400;color:#1f1f1f;">31.41</div>
<div style="position:absolute;left:1421.90px;top:832.60px;font-family:'DejaVu Sans Mono','Liberation Mono',monospace;font-size:23.10px;font-weight:400;color:#1f1f1f;">32.56</div>
<div style="position:absolute;left:1508.3999999999999px;top:833px;width:37.12px;height:30.2px;background:#1bab41"></div>
<div style="position:absolute;left:1558.76px;top:837.60px;font-family:'DejaVu Sans Mono','Liberation Mono',monospace;font-size:23.10px;font-weight:400;color:#1f1f1f;">37.12</div>
<div style="position:absolute;left:1938.90px;top:832.60px;font-family:'DejaVu Sans Mono','Liberation Mono',monospace;font-size:23.10px;font-weight:400;color:#1f1f1f;">17.18</div>
<div style="position:absolute;left:2025.3px;top:833px;width:15.8px;height:30.2px;background:#1bab41"></div>
<div style="position:absolute;left:2053.74px;top:837.60px;font-family:'DejaVu Sans Mono','Liberation Mono',monospace;font-size:23.10px;font-weight:400;color:#1f1f1f;">15.80</div>
<div style="position:absolute;left:465.67px;top:872.80px;font-family:'DejaVu Sans Mono','Liberation Mono',monospace;font-size:23.10px;font-weight:700;color:#1f1f1f;">76.50</div>
<div style="position:absolute;left:551.8px;top:873px;width:67.64336px;height:30.2px;background:#1bab41"></div>
<div style="position:absolute;left:630.97px;top:877.80px;font-family:'DejaVu Sans Mono','Liberation Mono',monospace;font-size:23.10px;font-weight:700;color:#1f1f1f;">67.04</div>
<div style="position:absolute;left:924.13px;top:872.80px;font-family:'DejaVu Sans Mono','Liberation Mono',monospace;font-size:23.10px;font-weight:700;color:#1f1f1f;">84.27</div>
<div style="position:absolute;left:1010.0999999999999px;top:873px;width:77.59062px;height:30.2px;background:#1bab41"></div>
<div style="position:absolute;left:1099.17px;top:877.80px;font-family:'DejaVu Sans Mono','Liberation Mono',monospace;font-size:23.10px;font-weight:700;color:#1f1f1f;">77.32</div>
<div style="position:absolute;left:1421.90px;top:872.80px;font-family:'DejaVu Sans Mono','Liberation Mono',monospace;font-size:23.10px;font-weight:700;color:#1f1f1f;">79.83</div>
<div style="position:absolute;left:1508.3999999999999px;top:873px;width:84.37px;height:30.2px;background:#1bab41"></div>
<div style="position:absolute;left:1604.26px;top:877.80px;font-family:'DejaVu Sans Mono','Liberation Mono',monospace;font-size:23.10px;font-weight:700;color:#1f1f1f;">84.37</div>
<div style="position:absolute;left:1938.67px;top:872.80px;font-family:'DejaVu Sans Mono','Liberation Mono',monospace;font-size:23.10px;font-weight:700;color:#1f1f1f;">71.46</div>
<div style="position:absolute;left:2025.3px;top:873px;width:66.0px;height:30.2px;background:#1bab41"></div>
<div style="position:absolute;left:2103.47px;top:877.80px;font-family:'DejaVu Sans Mono','Liberation Mono',monospace;font-size:23.10px;font-weight:700;color:#1f1f1f;">66.00</div>
<div style="position:absolute;left:466.13px;top:910.40px;font-family:'DejaVu Sans Mono','Liberation Mono',monospace;font-size:23.10px;font-weight:400;color:#1f1f1f;">63.33</div>
<div style="position:absolute;left:551.8px;top:911px;width:55.33356px;height:30.2px;background:#1bab41"></div>
<div style="position:absolute;left:619.22px;top:915.60px;font-family:'DejaVu Sans Mono','Liberation Mono',monospace;font-size:23.10px;font-weight:400;color:#1f1f1f;">54.84</div>
<div style="position:absolute;left:924.13px;top:910.40px;font-family:'DejaVu Sans Mono','Liberation Mono',monospace;font-size:23.10px;font-weight:400;color:#1f1f1f;">73.15</div>
<div style="position:absolute;left:1010.0999999999999px;top:911px;width:66.943485px;height:30.2px;background:#1bab41"></div>
<div style="position:absolute;left:1088.96px;top:915.60px;font-family:'DejaVu Sans Mono','Liberation Mono',monospace;font-size:23.10px;font-weight:400;color:#1f1f1f;">66.71</div>
<div style="position:absolute;left:1421.90px;top:910.40px;font-family:'DejaVu Sans Mono','Liberation Mono',monospace;font-size:23.10px;font-weight:400;color:#1f1f1f;">69.18</div>
<div style="position:absolute;left:1508.3999999999999px;top:911px;width:74.52px;height:30.2px;background:#1bab41"></div>
<div style="position:absolute;left:1594.78px;top:915.60px;font-family:'DejaVu Sans Mono','Liberation Mono',monospace;font-size:23.10px;font-weight:400;color:#1f1f1f;">74.52</div>
<div style="position:absolute;left:1939.36px;top:910.40px;font-family:'DejaVu Sans Mono','Liberation Mono',monospace;font-size:23.10px;font-weight:400;color:#1f1f1f;">58.62</div>
<div style="position:absolute;left:2025.3px;top:911px;width:54.0px;height:30.2px;background:#1bab41"></div>
<div style="position:absolute;left:2091.92px;top:915.60px;font-family:'DejaVu Sans Mono','Liberation Mono',monospace;font-size:23.10px;font-weight:400;color:#1f1f1f;">54.00</div>
<div style="position:absolute;left:466.13px;top:949.10px;font-family:'DejaVu Sans Mono','Liberation Mono',monospace;font-size:23.10px;font-weight:400;color:#1f1f1f;">13.17</div>
<div style="position:absolute;left:551.8px;top:949.3px;width:12.31989px;height:30.2px;background:#1bab41"></div>
<div style="position:absolute;left:576.79px;top:954.30px;font-family:'DejaVu Sans Mono','Liberation Mono',monospace;font-size:23.10px;font-weight:400;color:#1f1f1f;">12.21</div>
<div style="position:absolute;left:924.36px;top:949.10px;font-family:'DejaVu Sans Mono','Liberation Mono',monospace;font-size:23.10px;font-weight:400;color:#1f1f1f;">11.12</div>
<div style="position:absolute;left:1010.0999999999999px;top:949.3px;width:10.6371px;height:30.2px;background:#1bab41"></div>
<div style="position:absolute;left:1033.54px;top:954.30px;font-family:'DejaVu Sans Mono','Liberation Mono',monospace;font-size:23.10px;font-weight:400;color:#1f1f1f;">10.60</div>
<div style="position:absolute;left:1422.13px;top:949.10px;font-family:'DejaVu Sans Mono','Liberation Mono',monospace;font-size:23.10px;font-weight:400;color:#1f1f1f;">10.65</div>
<div style="position:absolute;left:1508.3999999999999px;top:949.3px;width:9.85px;height:30.2px;background:#1bab41"></div>
<div style="position:absolute;left:1532.50px;top:954.30px;font-family:'DejaVu Sans Mono','Liberation Mono',monospace;font-size:23.10px;font-weight:400;color:#1f1f1f;">9.85</div>
<div style="position:absolute;left:1938.43px;top:949.10px;font-family:'DejaVu Sans Mono','Liberation Mono',monospace;font-size:23.10px;font-weight:400;color:#1f1f1f;">12.84</div>
<div style="position:absolute;left:2025.3px;top:949.3px;width:13.0px;height:30.2px;background:#1bab41"></div>
<div style="position:absolute;left:2051.05px;top:954.30px;font-family:'DejaVu Sans Mono','Liberation Mono',monospace;font-size:23.10px;font-weight:400;color:#1f1f1f;">13.00</div>
<div style="position:absolute;left:550.2px;top:674px;width:1.8px;height:308px;background:#111"></div>
<div style="position:absolute;left:1008.5px;top:674px;width:1.8px;height:308px;background:#111"></div>
<div style="position:absolute;left:1506.8px;top:674px;width:1.8px;height:308px;background:#111"></div>
<div style="position:absolute;left:2023.7px;top:674px;width:1.8px;height:308px;background:#111"></div>
</div>
<div style="position:absolute;left:31px;top:1427px;width:2030px;height:17px;box-sizing:border-box;background:#fafafa;border:1px solid #ececec;border-radius:9px"></div>
<div style="position:absolute;left:31px;top:1427px;width:1807px;height:17px;background:#a9a9a9;border-radius:8.5px"></div>
<div style="position:absolute;left:2px;top:1448px;width:2059px;height:1.8px;background:#dedede"></div>
<div style="position:absolute;left:2.20px;top:1463.63px;font-family:'Liberation Sans',sans-serif;font-size:24.90px;font-weight:400;color:#222;">Total rows:</div>
<div style="position:absolute;left:129.70px;top:1463.63px;font-family:'Liberation Sans',sans-serif;font-size:24.90px;font-weight:400;color:#222;">9</div>
<div style="position:absolute;left:167.50px;top:1463.63px;font-family:'Liberation Sans',sans-serif;font-size:24.90px;font-weight:400;color:#222;">Sum:</div>
<div style="position:absolute;left:232.31px;top:1465.37px;font-family:'DejaVu Sans Mono','Liberation Mono',monospace;font-size:23.13px;font-weight:400;color:#222;">773.35m</div>
<div style="position:absolute;left:355.40px;top:1463.63px;font-family:'Liberation Sans',sans-serif;font-size:24.90px;font-weight:400;color:#222;">Avg:</div>
<div style="position:absolute;left:411.12px;top:1465.49px;font-family:'DejaVu Sans Mono','Liberation Mono',monospace;font-size:22.99px;font-weight:400;color:#222;">85.93m</div>
<div style="position:absolute;left:518.55px;top:1463.63px;font-family:'Liberation Sans',sans-serif;font-size:24.90px;font-weight:400;color:#222;">Count:</div>
<div style="position:absolute;left:603.85px;top:1463.63px;font-family:'Liberation Sans',sans-serif;font-size:24.90px;font-weight:400;color:#222;">9</div>
<svg style="position:absolute;left:640px;top:1462px;" width="32" height="26" viewBox="0 0 32 26"><path d="M3 12.5 C8 4 22 3.5 28.5 12.5" fill="none" stroke="#333" stroke-width="1.8"/><path d="M9.5 12.5 C10.5 17.5 17 20 21 15.5" fill="none" stroke="#333" stroke-width="1.8"/><line x1="6" y1="3" x2="27.5" y2="24" stroke="#333" stroke-width="1.8"/></svg>
<svg style="position:absolute;left:1338px;top:1459px;" width="40" height="38" viewBox="0 0 40 38"><g transform="translate(19.3,18.2)"><path d="M-3.2,-16.5 L3.2,-16.5 L4.2,-11.8 L8.2,-9.5 L12.8,-11 L16,-5.5 L12.4,-2.3 L12.4,2.3 L16,5.5 L12.8,11 L8.2,9.5 L4.2,11.8 L3.2,16.5 L-3.2,16.5 L-4.2,11.8 L-8.2,9.5 L-12.8,11 L-16,5.5 L-12.4,2.3 L-12.4,-2.3 L-16,-5.5 L-12.8,-11 L-8.2,-9.5 L-4.2,-11.8 Z" fill="none" stroke="#333" stroke-width="1.7" stroke-linejoin="round"/>
<circle r="6.3" fill="none" stroke="#1a5fb4" stroke-width="2"/></g></svg>
<div style="position:absolute;left:1397px;top:1478.5px;width:23px;height:2.2px;background:#333"></div>
<div style="position:absolute;left:1436.5px;top:1461px;width:115.5px;height:41px;box-sizing:border-box;border:1.5px solid #999;background:#fff"></div>
<div style="position:absolute;left:1462.03px;top:1469.84px;font-family:'DejaVu Sans Mono','Liberation Mono',monospace;font-size:24.00px;font-weight:400;color:#222;">100</div>
<div style="position:absolute;left:1507.31px;top:1469.04px;font-family:'Liberation Sans',sans-serif;font-size:22.89px;font-weight:400;color:#222;">%</div>
<div style="position:absolute;left:1564.6px;top:1479px;width:22.5px;height:2.2px;background:#333"></div>
<div style="position:absolute;left:1574.7px;top:1468.8px;width:2.2px;height:22.5px;background:#333"></div>
<div style="position:absolute;left:1645.00px;top:1463.84px;font-family:'Liberation Sans',sans-serif;font-size:24.90px;font-weight:400;color:#222;">9 records</div>
<svg style="position:absolute;left:1768px;top:1462px;" width="54" height="32" viewBox="0 0 54 32"><rect x="4" y="4.5" width="3" height="22" fill="#a2a2a2"/><polyline points="22,5.5 13,15.5 22,25.5" fill="none" stroke="#a2a2a2" stroke-width="3.2"/><polyline points="49,5.5 40,15.5 49,25.5" fill="none" stroke="#a2a2a2" stroke-width="3.2"/></svg>
<div style="position:absolute;left:1829.51px;top:1463.84px;font-family:'Liberation Sans',sans-serif;font-size:24.90px;font-weight:400;color:#222;">Page 1 of 1</div>
<svg style="position:absolute;left:1964px;top:1462px;" width="56" height="32" viewBox="0 0 56 32"><polyline points="5.5,5.5 14.5,15.5 5.5,25.5" fill="none" stroke="#a2a2a2" stroke-width="3.2"/><polyline points="31.5,5.5 40.5,15.5 31.5,25.5" fill="none" stroke="#a2a2a2" stroke-width="3.2"/><rect x="47.5" y="4.5" width="3.6" height="21" fill="#a2a2a2"/></svg>
<div style="position:absolute;left:2050px;top:0px;width:12px;height:1510px;background:linear-gradient(90deg,rgba(0,0,0,0) 0%,rgba(0,0,0,0.025) 55%,rgba(0,0,0,0.13) 100%)"></div>
<div style="position:absolute;left:2059.5px;top:456px;width:1.5px;height:51.5px;background:#cfcfcf"></div>
<div style="position:absolute;left:2062px;top:0px;width:622px;height:124px;background:#fff"></div>
<div style="position:absolute;left:2062px;top:124px;width:622px;height:1246px;background:#f4f4f4"></div>
<div style="position:absolute;left:2062px;top:1370px;width:622px;height:140px;background:#fff"></div>
<div style="position:absolute;left:2666px;top:124px;width:16px;height:1244px;box-sizing:border-box;background:#fbfbfb;border:1px solid #ededed;border-radius:8px"></div>
<div style="position:absolute;left:2666px;top:124px;width:16px;height:1083px;background:#a8a8a8;border-radius:8px"></div>
<svg style="position:absolute;left:2538px;top:3px;" width="24" height="23" viewBox="0 0 24 23"><path d="M13.5 2.5 L20.5 9.8 L19.6 11 L14.3 13.8 L13 18.2 L12 19.3 L4.5 11.8 L5.6 10.8 L9.9 9.4 L12.4 3.7 Z" fill="none" stroke="#5f5f5f" stroke-width="1.5" stroke-linejoin="round"/><line x1="8.2" y1="15.3" x2="3.3" y2="20.4" stroke="#5f5f5f" stroke-width="1.6" stroke-linecap="round"/></svg>
<svg style="position:absolute;left:2580px;top:5px;" width="24" height="20" viewBox="0 0 24 20"><line x1="2.5" y1="3.3" x2="19.5" y2="3.3" stroke="#5f5f5f" stroke-width="1.7" stroke-linecap="round"/><line x1="5.5" y1="9.1" x2="16.5" y2="9.1" stroke="#5f5f5f" stroke-width="1.7" stroke-linecap="round"/><line x1="8.5" y1="15.2" x2="13.5" y2="15.2" stroke="#5f5f5f" stroke-width="1.7" stroke-linecap="round"/></svg>
<svg style="position:absolute;left:2621px;top:5px;" width="23" height="23" viewBox="0 0 23 23"><path d="M9.5 2.8 H6.5 A4 4 0 0 0 2.5 6.8 V15.8 A4 4 0 0 0 6.5 19.8 H15.5 A4 4 0 0 0 19.5 15.8 V12.8" fill="none" stroke="#5f5f5f" stroke-width="1.6" stroke-linecap="round"/><path d="M2.5 12.8 H6.5 A2.8 2.8 0 0 1 9.3 15.6 V19.8" fill="none" stroke="#5f5f5f" stroke-width="1.6"/><line x1="11.5" y1="10.8" x2="19.3" y2="3" stroke="#5f5f5f" stroke-width="1.6" stroke-linecap="round"/><polyline points="13.5,2.8 19.5,2.8 19.5,8.8" fill="none" stroke="#5f5f5f" stroke-width="1.6" stroke-linecap="round"/></svg>
<div style="position:absolute;left:2665.9px;top:12.3px;width:3.2px;height:3.2px;background:#5f5f5f;border-radius:50%"></div>
<div style="position:absolute;left:2671.6px;top:12.3px;width:3.2px;height:3.2px;background:#5f5f5f;border-radius:50%"></div>
<div style="position:absolute;left:2677.4px;top:12.3px;width:3.2px;height:3.2px;background:#5f5f5f;border-radius:50%"></div>
<svg style="position:absolute;left:2096px;top:60px;" width="24" height="34" viewBox="0 0 24 34"><polyline points="17,4.5 5.5,16.5 17,28.5" fill="none" stroke="#333" stroke-width="1.8"/></svg>
<div style="position:absolute;left:2158.96px;top:54.52px;font-family:'Liberation Sans',sans-serif;font-size:40.80px;font-weight:400;color:#323232;">Calculated Row</div>
<svg style="position:absolute;left:2455px;top:58px;" width="29" height="29" viewBox="0 0 29 29"><circle cx="14.2" cy="14.8" r="11.4" fill="none" stroke="#333" stroke-width="1.7"/><circle cx="14.2" cy="9.4" r="1.2" fill="#333"/><rect x="13.3" y="12.2" width="1.8" height="7.8" fill="#333"/></svg>
<svg style="position:absolute;left:2632px;top:66px;" width="32" height="32" viewBox="0 0 32 32"><line x1="4.5" y1="4.5" x2="27.5" y2="27.5" stroke="#333" stroke-width="2.1"/><line x1="27.5" y1="4.5" x2="4.5" y2="27.5" stroke="#333" stroke-width="2.1"/></svg>
<div style="position:absolute;left:2095.50px;top:164.95px;font-family:'Liberation Sans',sans-serif;font-size:25.00px;font-weight:400;color:#323130;-webkit-text-stroke:0.75px #323130">Title</div>
<div style="position:absolute;left:2142.93px;top:164.40px;font-family:'Liberation Sans',sans-serif;font-size:26.00px;font-weight:700;color:#a4262c;">*</div>
<div style="position:absolute;left:2095.5px;top:208.7px;width:537px;height:69.5px;box-sizing:border-box;background:#fff;border:2px solid #e1e1e1"></div>
<div style="position:absolute;left:2106.52px;top:233.59px;font-family:'Liberation Sans',sans-serif;font-size:24.60px;font-weight:400;color:#323130;">Speciality Beverages</div>
<div style="position:absolute;left:2094.00px;top:310.75px;font-family:'Liberation Sans',sans-serif;font-size:25.00px;font-weight:400;color:#323130;-webkit-text-stroke:0.75px #323130">Formula</div>
<div style="position:absolute;left:2194.93px;top:310.10px;font-family:'Liberation Sans',sans-serif;font-size:26.00px;font-weight:700;color:#a4262c;">*</div>
<svg style="position:absolute;left:2588px;top:308px;" width="30" height="30" viewBox="0 0 30 30"><line x1="4" y1="26" x2="26" y2="4" stroke="#333" stroke-width="1.8"/><polyline points="4,16 4,26 14,26" fill="none" stroke="#333" stroke-width="1.8"/><polyline points="16,4 26,4 26,14" fill="none" stroke="#333" stroke-width="1.8"/></svg>
<div style="position:absolute;left:2096.5px;top:358.8px;width:535px;height:304.4px;box-sizing:border-box;background:#fff;border:2px solid #e4e4e4"></div>
<div style="position:absolute;left:2098.5px;top:612.5px;width:531px;height:48.7px;background:#f4f4f4;border-top:1.5px solid #e4e4e4"></div>
<div style="position:absolute;left:2117.3px;top:621px;font-family:'DejaVu Serif','Liberation Serif',serif;font-style:italic;font-size:31px;line-height:1;white-space:nowrap"><span style="color:#0b4fa8;-webkit-text-stroke:0.5px #0b4fa8">f</span><span style="color:#333;font-size:26px;margin-left:3.5px;-webkit-text-stroke:0.6px #333">x</span></div>
<div style="position:absolute;left:2104.00px;top:375.25px;font-family:'Liberation Sans',sans-serif;font-size:25.00px;font-weight:400;color:#333;white-space:pre"><span style="color:#0f6cbd">MIN</span>(<span style="color:#0f6cbd">[Beverages]</span><span style="margin:0 0.21em">.</span><span style="color:#0f6cbd">[Soda]</span><span style="margin:0 0.21em 0 0.14em">,</span><span style="color:#0f6cbd">[Water]</span><span style="margin:0 0.21em">.</span><span style="color:#0f6cbd">[Mineral</span></div>
<div style="position:absolute;left:2106.00px;top:417.25px;font-family:'Liberation Sans',sans-serif;font-size:25.00px;font-weight:400;color:#333;white-space:pre"><span style="color:#0f6cbd">Water]</span>)</div>
<svg style="position:absolute;left:2096px;top:685px;" width="24" height="28" viewBox="0 0 24 28"><path d="M6.5 17 C3 13.8 2.8 9.2 5.2 6.2 C7.4 3.4 11.6 2.6 14.8 4.4 C18.6 6.5 19.6 11.6 17 15.3 C16 16.8 14.7 17.6 14.6 19.6 L14.6 20.8 L7.8 20.8 L7.8 19.6 C7.8 18.6 7.3 17.8 6.5 17 Z" fill="none" stroke="#555" stroke-width="1.6"/><line x1="8" y1="24" x2="14.5" y2="24" stroke="#555" stroke-width="1.6"/></svg>
<div style="position:absolute;left:2128.98px;top:686.17px;font-family:'Liberation Sans',sans-serif;font-size:23.10px;font-weight:400;color:#5a5a5a;">Select any row in the table to add to the formula.</div>
<div style="position:absolute;left:2128.28px;top:720.97px;font-family:'Liberation Sans',sans-serif;font-size:23.10px;font-weight:400;color:#5a5a5a;white-space:pre;letter-spacing:-0.45px">Use <span style="color:#444;-webkit-text-stroke:0.6px #444">Ctrl + Space</span> to open suggestion</div>
<div style="position:absolute;left:2095.5px;top:807.2px;width:33.5px;height:33.5px;box-sizing:border-box;background:#fff;border:2px solid #333"></div>
<div style="position:absolute;left:2145.53px;top:813.29px;font-family:'Liberation Sans',sans-serif;font-size:24.60px;font-weight:400;color:#323130;">Bind for Cross filter/RLS</div>
<div style="position:absolute;left:2095.02px;top:896.56px;font-family:'Liberation Sans',sans-serif;font-size:24.40px;font-weight:400;color:#323130;-webkit-text-stroke:0.75px #323130">Scaling Factor</div>
<div style="position:absolute;left:2257.53px;top:895.10px;font-family:'Liberation Sans',sans-serif;font-size:26.00px;font-weight:700;color:#a4262c;">*</div>
<div style="position:absolute;left:2095.5px;top:940.4px;width:537px;height:66px;box-sizing:border-box;background:#fff;border:2px solid #e3e3e3"></div>
<div style="position:absolute;left:2119.20px;top:961.39px;font-family:'Liberation Sans',sans-serif;font-size:24.60px;font-weight:400;color:#323130;">Auto</div>
<svg style="position:absolute;left:2582px;top:960px;" width="32" height="22" viewBox="0 0 32 22"><polyline points="3.5,5.5 15.5,17.5 27.5,5.5" fill="none" stroke="#333" stroke-width="1.8"/></svg>
<div style="position:absolute;left:2095.5px;top:1053.6px;width:33.5px;height:33.5px;box-sizing:border-box;background:#fff;border:2px solid #333"></div>
<div style="position:absolute;left:2145.29px;top:1058.99px;font-family:'Liberation Sans',sans-serif;font-size:24.60px;font-weight:400;color:#323130;">Include in total</div>
<div style="position:absolute;left:2095px;top:1155.5px;width:34.5px;height:34.5px;background:#0078d4"></div>
<svg style="position:absolute;left:2095px;top:1155.5px;" width="35" height="35" viewBox="0 0 35 35"><polyline points="8,17.5 14.5,24 27,11.5" fill="none" stroke="#fff" stroke-width="3.2"/></svg>
<div style="position:absolute;left:2145.29px;top:1162.29px;font-family:'Liberation Sans',sans-serif;font-size:24.60px;font-weight:400;color:#323130;">Include in Charts</div>
<div style="position:absolute;left:2095px;top:1258.3px;width:34.5px;height:34.5px;background:#0078d4"></div>
<svg style="position:absolute;left:2095px;top:1258.3px;" width="35" height="35" viewBox="0 0 35 35"><polyline points="8,17.5 14.5,24 27,11.5" fill="none" stroke="#fff" stroke-width="3.2"/></svg>
<div style="position:absolute;left:2145.53px;top:1263.79px;font-family:'Liberation Sans',sans-serif;font-size:24.60px;font-weight:400;color:#323130;">Evaluate Columns Before Rows</div>
<div style="position:absolute;left:2062px;top:1330px;width:600px;height:39.5px;overflow:hidden">
<div style="position:absolute;left:32.40px;top:17.25px;font-family:'Liberation Sans',sans-serif;font-size:25.00px;font-weight:400;color:#323130;-webkit-text-stroke:0.75px #323130">Description</div>
</div>
<div style="position:absolute;left:2294px;top:1399px;width:168px;height:76px;background:#f3f3f3"></div>
<div style="position:absolute;left:2343.41px;top:1424.52px;font-family:'Liberation Sans',sans-serif;font-size:26.80px;font-weight:400;color:#242424;-webkit-text-stroke:0.7px #242424">Close</div>
<div style="position:absolute;left:2484px;top:1399px;width:168px;height:76px;background:#0078d4"></div>
<div style="position:absolute;left:2524.34px;top:1424.52px;font-family:'Liberation Sans',sans-serif;font-size:26.80px;font-weight:400;color:#fff;-webkit-text-stroke:0.8px #fff">Update</div>
<div style="position:absolute;left:22px;top:780px;width:2050.5px;height:60px;box-sizing:border-box;border:4.2px solid #e41d25"></div>
</body></html>
